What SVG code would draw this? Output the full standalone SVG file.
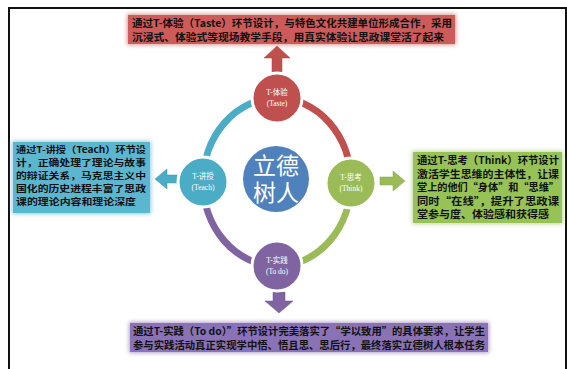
<svg xmlns="http://www.w3.org/2000/svg" width="567" height="369" viewBox="0 0 567 369">
<defs>
<filter id="glow" x="-10%" y="-20%" width="120%" height="140%">
<feGaussianBlur stdDeviation="2"/>
</filter>
<style>
.bt{font-family:"Noto Sans CJK SC","Liberation Sans",sans-serif;font-weight:700;fill:#111;}
.cl{font-family:"Liberation Serif","Noto Sans CJK SC",serif;fill:#fff;text-anchor:middle;font-size:7.5px;}
.ctr{font-family:"Liberation Serif","Noto Sans CJK SC",serif;fill:#fff;text-anchor:middle;font-size:23px;}
.ring{fill:none;stroke-width:7;}
.node{stroke:#fff;stroke-width:3;}
</style>
</defs>
<rect width="567" height="369" fill="#fff"/>
<path d="M9,369 V8 H566 V369" fill="none" stroke="#111" stroke-width="2"/>

<g id="connectors">
<path class="ring" stroke="#c0504d" d="M277,98 A74,84 0 0 1 351,182"/>
<path class="ring" stroke="#9bbb59" d="M351,182 A74,84 0 0 1 277,266"/>
<path class="ring" stroke="#8064a2" d="M277,266 A74,84 0 0 1 203,182"/>
<path class="ring" stroke="#4bacc6" d="M203,182 A74,84 0 0 1 277,98"/>
<polygon points="272,74 272,58 264,58 277,46 290,58 282,58 282,74" fill="#c0504d" stroke="#a94442" stroke-width="0.5"/>
<polygon points="273,292 273,301 265,301 279,313 293,301 285,301 285,292" fill="#8064a2" stroke="#6a5290" stroke-width="0.5"/>
<polygon points="178,175 167,175 167,169 155,179 167,189 167,183 178,183" fill="#4bacc6" stroke="#3a95ad" stroke-width="0.5"/>
<polygon points="380,177 393,177 393,171 405,181 393,191 393,185 380,185" fill="#9bbb59" stroke="#85a446" stroke-width="0.5"/>
</g>

<g id="box-taste">
<rect x="127" y="14" width="329" height="31" fill="#c0504d" opacity="0.6" filter="url(#glow)"/>
<rect x="128" y="15" width="327" height="29" fill="#cd5b59"/>
<text class="bt" font-size="10.5"><tspan x="132" y="27" textLength="320" lengthAdjust="spacingAndGlyphs">通过T-体验（Taste）环节设计，与特色文化共建单位形成合作，采用</tspan><tspan x="132" y="41" textLength="312" lengthAdjust="spacingAndGlyphs">沉浸式、体验式等现场教学手段，用真实体验让思政课堂活了起来</tspan></text>
</g>

<g id="box-teach">
<rect x="12" y="141" width="139" height="73" fill="#4bacc6" opacity="0.6" filter="url(#glow)"/>
<rect x="13" y="142" width="137" height="71" fill="#5cb6d0"/>
<text class="bt" font-size="9"><tspan x="16" y="152.5" textLength="130" lengthAdjust="spacingAndGlyphs">通过T-讲授（Teach）环节设</tspan><tspan x="16" y="165.5" textLength="130" lengthAdjust="spacingAndGlyphs">计，正确处理了理论与故事</tspan><tspan x="16" y="178.5" textLength="130" lengthAdjust="spacingAndGlyphs">的辩证关系，马克思主义中</tspan><tspan x="16" y="191.5" textLength="130" lengthAdjust="spacingAndGlyphs">国化的历史进程丰富了思政</tspan><tspan x="16" y="204.5" textLength="120" lengthAdjust="spacingAndGlyphs">课的理论内容和理论深度</tspan></text>
</g>

<g id="box-think">
<rect x="412" y="151" width="151" height="73" fill="#9bbb59" opacity="0.6" filter="url(#glow)"/>
<rect x="413" y="152" width="149" height="71" fill="#97c256"/>
<text class="bt" font-size="10.5"><tspan x="417" y="164" textLength="142" lengthAdjust="spacingAndGlyphs">通过T-思考（Think）环节设计</tspan><tspan x="417" y="177.5" textLength="142" lengthAdjust="spacingAndGlyphs">激活学生思维的主体性，让课</tspan><tspan x="417" y="191" textLength="142" lengthAdjust="spacingAndGlyphs">堂上的他们“身体”和“思维”</tspan><tspan x="417" y="204.5" textLength="142" lengthAdjust="spacingAndGlyphs">同时“在线”，提升了思政课</tspan><tspan x="417" y="218" textLength="132" lengthAdjust="spacingAndGlyphs">堂参与度、体验感和获得感</tspan></text>
</g>

<g id="box-todo">
<rect x="129" y="322" width="360" height="31" fill="#8064a2" opacity="0.6" filter="url(#glow)"/>
<rect x="130" y="323" width="358" height="29" fill="#8a72b6"/>
<text class="bt" font-size="10.5"><tspan x="133" y="335" textLength="352" lengthAdjust="spacingAndGlyphs">通过T-实践（To do）”环节设计完美落实了“学以致用”的具体要求，让学生</tspan><tspan x="133" y="348.5" textLength="352" lengthAdjust="spacingAndGlyphs">参与实践活动真正实现学中悟、悟且思、思后行，最终落实立德树人根本任务</tspan></text>
</g>

<g id="node-taste">
<circle class="node" cx="277" cy="98" r="25" fill="#c0504d"/>
<text class="cl" x="277" y="95">T-体验</text>
<text class="cl" x="277" y="106">(Taste)</text>
</g>
<g id="node-think">
<circle class="node" cx="351" cy="183" r="25" fill="#9bbb59"/>
<text class="cl" x="351" y="180">T-思考</text>
<text class="cl" x="351" y="191">(Think)</text>
</g>
<g id="node-todo">
<circle class="node" cx="277" cy="266" r="25" fill="#8064a2"/>
<text class="cl" x="277" y="263">T-实践</text>
<text class="cl" x="277" y="274">(To do)</text>
</g>
<g id="node-teach">
<circle class="node" cx="203" cy="182" r="25" fill="#4bacc6"/>
<text class="cl" x="203" y="179">T-讲授</text>
<text class="cl" x="203" y="190">(Teach)</text>
</g>
<g id="node-center">
<circle cx="276" cy="179" r="33" fill="#4f81bd"/>
<text class="ctr" x="276" y="174">立德</text>
<text class="ctr" x="276" y="201">树人</text>
</g>
</svg>
